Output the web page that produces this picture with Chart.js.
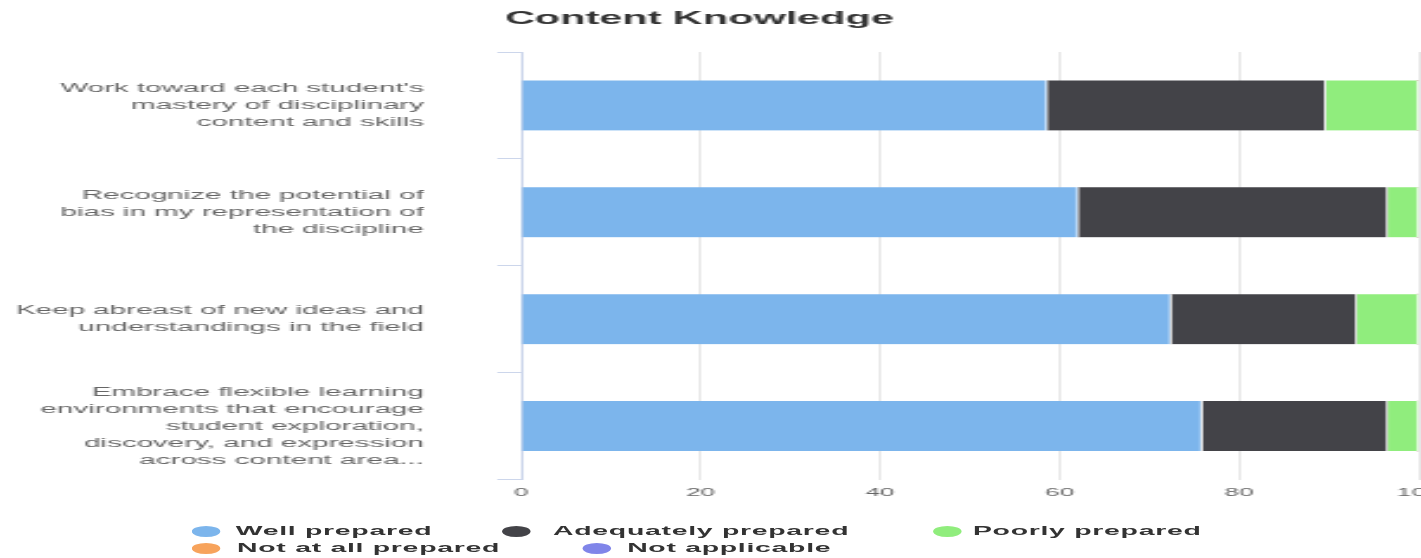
<!DOCTYPE html>
<html>
<head>
<meta charset="utf-8">
<script src="https://cdn.jsdelivr.net/npm/chart.js@4/dist/chart.umd.min.js"></script>
<style>
html,body{margin:0;padding:0;background:#fff;overflow:hidden;width:1421px;height:558px;}
#wrap{position:absolute;left:0;top:0;width:600px;height:558px;transform:scaleX(2.368333);transform-origin:0 0;}
#c{position:absolute;left:0;top:0;}
.li{position:absolute;font:bold 12px "Liberation Sans",Arial,sans-serif;color:#333;white-space:nowrap;line-height:14px;letter-spacing:0.3px;}
.dot{position:absolute;width:12px;height:11px;border-radius:50%;}
</style>
</head>
<body>
<div id="wrap"><canvas id="c" width="600" height="558"></canvas><div id="legend"></div></div>
<script>
const chartTitle = 'Content Knowledge';
const categories = [
  ["Work toward each student's", "mastery of disciplinary", "content and skills"],
  ["Recognize the potential of", "bias in my representation of", "the discipline"],
  ["Keep abreast of new ideas and", "understandings in the field"],
  ["Embrace flexible learning", "environments that encourage", "student exploration,", "discovery, and expression", "across content area..."]
];
const seriesNames = ['Well prepared', 'Adequately prepared', 'Poorly prepared', 'Not at all prepared', 'Not applicable'];
const wellPrepared = [58.62, 62.07, 72.41, 75.86];
const adequatelyPrepared = [31.03, 34.48, 20.69, 20.69];
const poorlyPrepared = [10.34, 3.45, 6.90, 3.45];
const notAtAllPrepared = [0, 0, 0, 0];
const notApplicable = [0, 0, 0, 0];
const xTicks = [0, 20, 40, 60, 80, 100];
const seriesColors = ['#7cb5ec', '#434348', '#90ed7d', '#f7a35c', '#8085e9'];

const FONT = '"Liberation Sans", Arial, sans-serif';
const seriesValues = [wellPrepared, adequatelyPrepared, poorlyPrepared, notAtAllPrepared, notApplicable];

const chart = new Chart(document.getElementById('c'), {
  type: 'bar',
  data: {
    labels: categories,
    datasets: seriesValues.map((vals, i) => ({
      label: seriesNames[i],
      data: vals,
      backgroundColor: seriesColors[i],
      borderColor: '#ffffff',
      borderWidth: {left: 0, right: 1, top: 0, bottom: 0},
      borderSkipped: false,
      barThickness: 50
    }))
  },
  options: {
    indexAxis: 'y',
    responsive: false,
    animation: false,
    devicePixelRatio: 1,
    layout: {padding: {left: 0, right: 1, top: 0, bottom: 51.3}},
    plugins: {
      legend: {display: false},
      tooltip: {enabled: false},
      title: {
        display: true,
        text: chartTitle,
        color: '#333333',
        font: {family: FONT, size: 17.5, weight: 'bold', lineHeight: 1.2},
        padding: {top: 8.5, bottom: 22.5}
      }
    },
    scales: {
      x: {
        stacked: true,
        min: 0,
        max: 100,
        afterBuildTicks: s => { s.ticks = xTicks.map(v => ({value: v})); },
        grid: {color: '#e6e6e6', drawTicks: false, lineWidth: 1},
        border: {display: false},
        ticks: {color: '#666666', font: {family: FONT, size: 11}, padding: 7},
        afterFit: s => { s.paddingLeft = 0; s.paddingRight = 0; }
      },
      y: {
        stacked: true,
        grid: {drawOnChartArea: false, drawTicks: true, tickLength: 10, color: '#ccd6eb', offset: true},
        border: {display: true, color: '#ccd6eb'},
        ticks: {color: '#666666', font: {family: FONT, size: 12.5, lineHeight: '17px'}, padding: 31, autoSkip: false},
        afterFit: s => { s.width = 220; s.paddingTop = 0; s.paddingBottom = 0; }
      }
    }
  },
  plugins: [{
    id: 'shiftTitle',
    afterLayout(c) { c.titleBlock.left -= 4.2; c.titleBlock.right -= 4.2; }
  }]
});

// HTML legend built from the chart's datasets
const legendPos = [
  {cx: 86.6, tx: 99.5, cy: 531},
  {cx: 217.5, tx: 233.5, cy: 531},
  {cx: 400, tx: 410.8, cy: 531},
  {cx: 86.6, tx: 100.1, cy: 548},
  {cx: 252, tx: 264.8, cy: 548}
];
const legendEl = document.getElementById('legend');
chart.data.datasets.forEach((ds, i) => {
  const p = legendPos[i];
  const dot = document.createElement('div');
  dot.className = 'dot';
  dot.style.left = (p.cx - 6) + 'px';
  dot.style.top = (p.cy - 5.5) + 'px';
  dot.style.background = ds.backgroundColor;
  legendEl.appendChild(dot);
  const t = document.createElement('div');
  t.className = 'li';
  t.style.left = p.tx + 'px';
  t.style.top = (p.cy - 7) + 'px';
  t.textContent = ds.label;
  legendEl.appendChild(t);
});
</script>
</body>
</html>
